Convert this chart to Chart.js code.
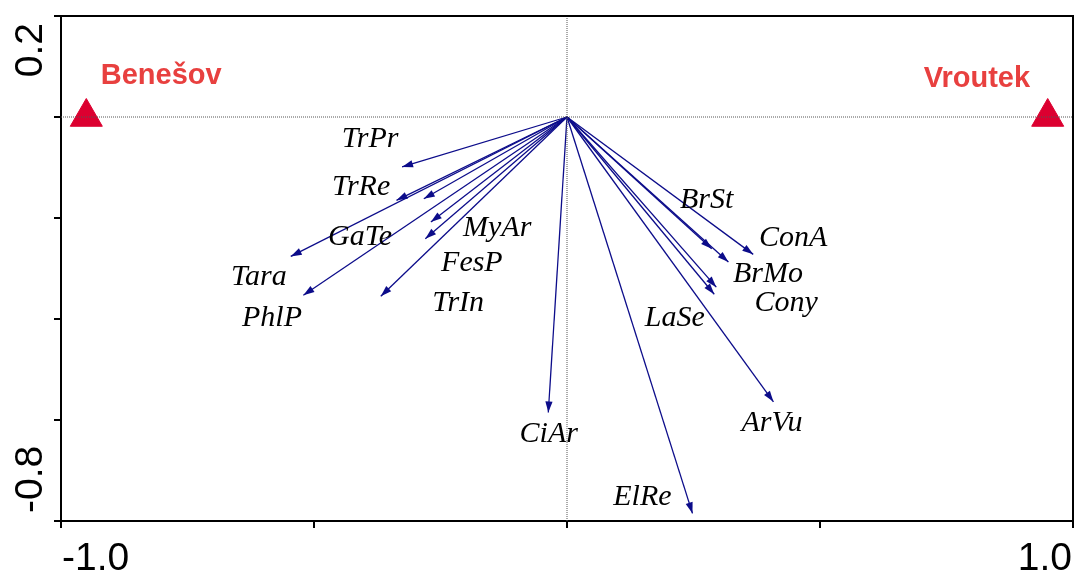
<!DOCTYPE html>
<html>
<head>
<meta charset="utf-8">
<title>Ordination biplot</title>
<script src="https://cdn.jsdelivr.net/npm/chart.js@4"></script>
<style>
  html, body { margin: 0; padding: 0; background: #fff; overflow: hidden; }
  #wrap { width: 1076px; height: 572px; position: relative; overflow: hidden; }
</style>
</head>
<body>
<div id="wrap"><canvas id="biplot"></canvas></div>
<script>
// Species arrows (tips of the vectors, origin is 0,0)
const species  = ['TrPr', 'TrRe', 'MyAr', 'GaTe', 'FesP', 'Tara', 'PhlP', 'TrIn', 'CiAr', 'ElRe', 'ArVu', 'BrSt', 'BrMo', 'ConA', 'Cony', 'LaSe'];
const speciesX = [-0.326, -0.337, -0.283, -0.269, -0.280, -0.546, -0.521, -0.368, -0.037, 0.248, 0.408, 0.286, 0.319, 0.368, 0.295, 0.291];
const speciesY = [-0.099, -0.165, -0.162, -0.208, -0.241, -0.276, -0.353, -0.355, -0.585, -0.785, -0.564, -0.261, -0.287, -0.272, -0.337, -0.351];
// where each species name is written
const labelX = [-0.389, -0.407, -0.138, -0.409, -0.188, -0.609, -0.583, -0.215, -0.036, 0.149, 0.405, 0.276, 0.397, 0.447, 0.433, 0.213];
const labelY = [-0.044, -0.139, -0.220, -0.237, -0.290, -0.317, -0.399, -0.369, -0.628, -0.752, -0.607, -0.164, -0.311, -0.239, -0.369, -0.399];

// Sites (centroids)
const sites  = ['Benešov', 'Vroutek'];
const siteX  = [-0.95, 0.95];
const siteY  = [0, 0];
const siteLabelX = [-0.802, 0.810];
const siteLabelY = [0.082, 0.075];

// Axis range and the tick labels that are printed
const xRange = [-1.0, 1.0];
const yRange = [-0.8, 0.2];
const xTickLabels = ['-1.0', '1.0'];
const yTickLabels = ['-0.8', '0.2'];

const arrowColor = '#0c0c8a';
const siteColor = '#dc0030';
const siteTextColor = '#e8403f';

const datasets = [];

// dotted zero lines
datasets.push({
  data: [{ x: xRange[0], y: 0 }, { x: xRange[1], y: 0 }],
  showLine: true, pointRadius: 0, borderColor: '#555', borderWidth: 1, borderDash: [1, 1]
});
datasets.push({
  data: [{ x: 0, y: yRange[0] }, { x: 0, y: yRange[1] }],
  showLine: true, pointRadius: 0, borderColor: '#555', borderWidth: 1, borderDash: [1, 1]
});

species.forEach((name, i) => {
  datasets.push({
    label: name,
    data: [{ x: 0, y: 0 }, { x: speciesX[i], y: speciesY[i] }],
    showLine: true, pointRadius: 0, borderColor: arrowColor, borderWidth: 1.3, arrow: true
  });
});

datasets.push({
  label: 'sites',
  data: sites.map((s, i) => ({ x: siteX[i], y: siteY[i] })),
  pointStyle: 'triangle', pointRadius: 18.5,
  backgroundColor: siteColor, borderColor: siteColor, borderWidth: 1
});

// arrow heads, frame, names and the few tick labels
const overlay = {
  id: 'overlay',
  afterDatasetsDraw(chart) {
    const ctx = chart.ctx;
    ctx.save();
    ctx.fillStyle = arrowColor;
    chart.data.datasets.forEach((ds, i) => {
      if (!ds.arrow) return;
      const pts = chart.getDatasetMeta(i).data;
      const p0 = pts[0], p1 = pts[1];
      const ang = Math.atan2(p1.y - p0.y, p1.x - p0.x);
      const len = 11, half = 3.6;
      const bx = p1.x - len * Math.cos(ang), by = p1.y - len * Math.sin(ang);
      ctx.beginPath();
      ctx.moveTo(p1.x, p1.y);
      ctx.lineTo(bx - half * Math.sin(ang), by + half * Math.cos(ang));
      ctx.lineTo(bx + half * Math.sin(ang), by - half * Math.cos(ang));
      ctx.closePath();
      ctx.fill();
    });
    ctx.restore();
  },
  afterDraw(chart) {
    const { ctx, chartArea: a, scales: { x, y } } = chart;
    ctx.save();

    // top and right sides of the box
    ctx.strokeStyle = '#000';
    ctx.lineWidth = 2;
    ctx.beginPath();
    ctx.moveTo(a.left, a.top);
    ctx.lineTo(a.right, a.top);
    ctx.lineTo(a.right, a.bottom);
    ctx.stroke();

    // species names
    ctx.fillStyle = '#000';
    ctx.font = 'italic 30px "Liberation Serif", "Times New Roman", serif';
    ctx.textAlign = 'center';
    ctx.textBaseline = 'middle';
    species.forEach((name, i) => {
      ctx.fillText(name, x.getPixelForValue(labelX[i]), y.getPixelForValue(labelY[i]));
    });

    // site names
    ctx.fillStyle = siteTextColor;
    ctx.font = 'bold 29px "Liberation Sans", Arial, sans-serif';
    sites.forEach((name, i) => {
      ctx.fillText(name, x.getPixelForValue(siteLabelX[i]), y.getPixelForValue(siteLabelY[i]));
    });

    // tick labels
    ctx.fillStyle = '#000';
    ctx.font = '39px "Liberation Sans", Arial, sans-serif';
    ctx.textBaseline = 'alphabetic';
    ctx.textAlign = 'left';
    ctx.fillText(xTickLabels[0], x.getPixelForValue(xRange[0]) + 1, 570);
    ctx.textAlign = 'right';
    ctx.fillText(xTickLabels[1], x.getPixelForValue(xRange[1]) - 1, 570);

    ctx.translate(42, 0);
    ctx.rotate(-Math.PI / 2);
    ctx.textAlign = 'left';
    ctx.fillText(yTickLabels[0], -(y.getPixelForValue(yRange[0]) - 8), 0);
    ctx.textAlign = 'right';
    ctx.fillText(yTickLabels[1], -(y.getPixelForValue(yRange[1]) + 7), 0);

    ctx.restore();
  }
};

new Chart(document.getElementById('biplot').getContext('2d'), {
  type: 'scatter',
  data: { datasets: datasets },
  options: {
    responsive: true,
    maintainAspectRatio: false,
    animation: false,
    layout: { autoPadding: false, padding: { left: 54, top: 16, right: 3, bottom: 44 } },
    plugins: { legend: { display: false }, tooltip: { enabled: false } },
    scales: {
      x: {
        type: 'linear', min: xRange[0], max: xRange[1],
        ticks: { display: false, stepSize: 0.5 },
        grid: { drawOnChartArea: false, drawTicks: true, tickLength: 7, color: '#000', lineWidth: 2 },
        border: { display: true, color: '#000', width: 2 },
        afterFit(s) { s.height = 7; }
      },
      y: {
        type: 'linear', min: yRange[0], max: yRange[1],
        ticks: { display: false, stepSize: 0.2 },
        grid: { drawOnChartArea: false, drawTicks: true, tickLength: 7, color: '#000', lineWidth: 2 },
        border: { display: true, color: '#000', width: 2 },
        afterFit(s) { s.width = 7; }
      }
    }
  },
  plugins: [overlay]
});
</script>
</body>
</html>
